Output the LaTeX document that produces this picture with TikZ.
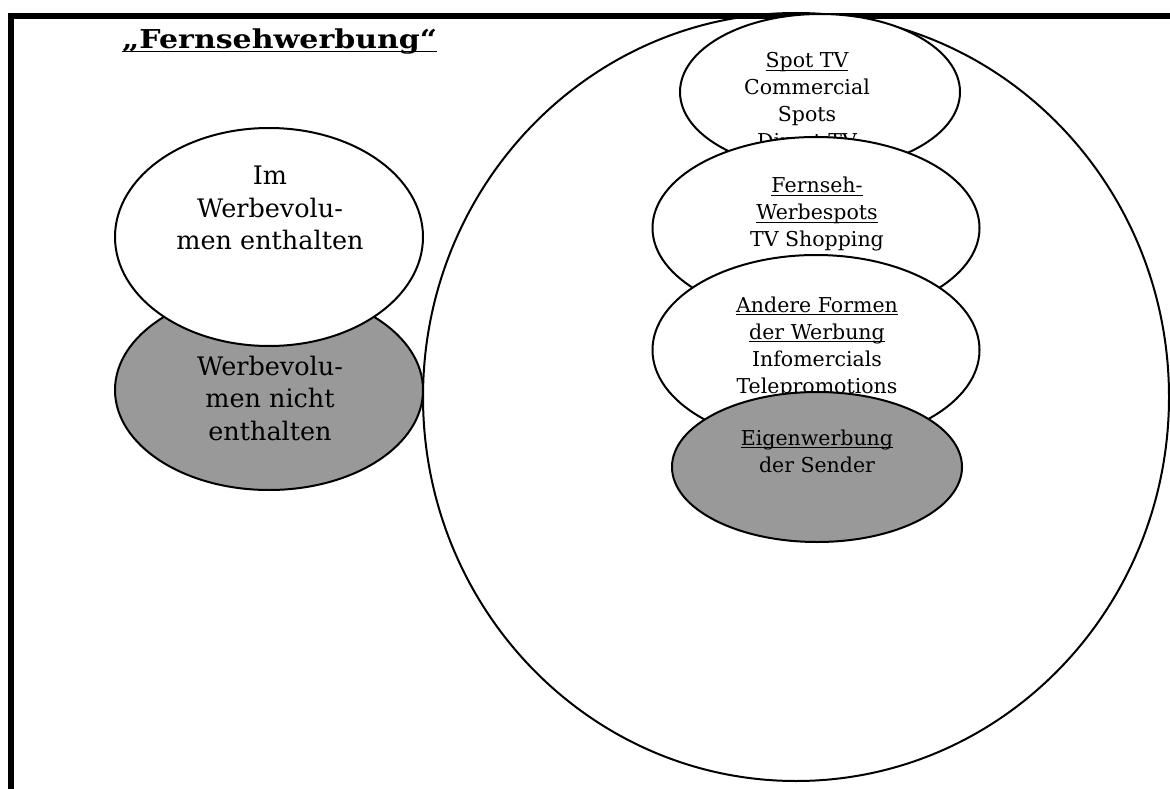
\documentclass[tikz,border=0pt]{standalone}
\usepackage{fontspec}
\usepackage{graphicx}
\setmainfont{DejaVu Serif}
\usetikzlibrary{shapes.geometric}
\definecolor{grayfill}{RGB}{153,153,153}
\newsavebox\ulbox
\newcommand\uln[1]{\sbox\ulbox{#1}\rlap{\rule[-3pt]{\wd\ulbox}{1.3pt}}\usebox\ulbox}
\newcommand\bigtxt{\fontsize{25.5}{32.5}\selectfont}
\newcommand\smalltxt{\fontsize{20.5}{27}\selectfont}
\tikzset{
  oval/.style={ellipse, draw=black, line width=2pt, inner sep=0pt, fill=white},
  grayoval/.style={oval, fill=grayfill},
  txt/.style={inner sep=0pt, anchor=base},
}
\begin{document}
\begin{tikzpicture}[x=1pt,y=-1pt]
\useasboundingbox (0,0) rectangle (1170,789);
% frame
\draw[line width=6pt, line join=miter] (11,789) -- (11,16) -- (1170,16);
% title
\node[txt, anchor=base west] (title) at (122,49) {\resizebox{315pt}{\height}{\fontsize{26}{30}\selectfont\bfseries\uln{„Fernsehwerbung“}}};
% big circle
\node[ellipse, draw=black, line width=2pt, inner sep=0pt, minimum width=746pt, minimum height=768pt] (big) at (796,397) {};
% left ellipses
\node[grayoval, minimum width=308pt, minimum height=200pt] (nicht) at (269,390) {};
\node[txt] (nichttxt) at (270,375) {\bigtxt\begin{tabular}[t]{@{}c@{}}Werbevolu-\\men nicht\\enthalten\end{tabular}};
\node[oval, minimum width=308pt, minimum height=218pt] (im) at (269,237) {};
\node[txt] (imtxt) at (270,185) {\bigtxt\begin{tabular}[t]{@{}c@{}}Im\\Werbevolu-\\men enthalten\end{tabular}};
% right stack
\node[oval, minimum width=280pt, minimum height=156pt] (spot) at (820,92) {};
\node[txt] (spottxt) at (807,68) {\smalltxt\begin{tabular}[t]{@{}c@{}}\uln{Spot TV}\\Commercial\\Spots\\Direct TV\end{tabular}};
\node[oval, minimum width=327pt, minimum height=182pt] (fern) at (816,228) {};
\node[txt] (ferntxt) at (817,193) {\smalltxt\begin{tabular}[t]{@{}c@{}}\uln{Fernseh-}\\\uln{Werbespots}\\TV Shopping\end{tabular}};
\node[oval, minimum width=327pt, minimum height=190pt] (andere) at (816,350) {};
\node[txt] (anderetxt) at (817,312) {\smalltxt\begin{tabular}[t]{@{}c@{}}\uln{Andere Formen}\\\uln{der Werbung}\\Infomercials\\Telepromotions\end{tabular}};
\node[grayoval, minimum width=290pt, minimum height=150pt] (eigen) at (817,467) {};
\node[txt] (eigentxt) at (817,445) {\smalltxt\begin{tabular}[t]{@{}c@{}}\uln{Eigenwerbung}\\der Sender\end{tabular}};
\end{tikzpicture}
\end{document}
